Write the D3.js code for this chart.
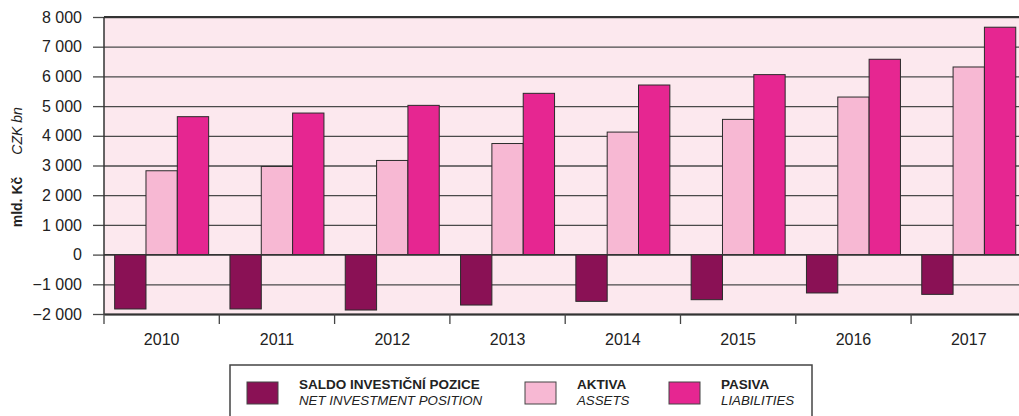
<!DOCTYPE html>
<html>
<head>
<meta charset="utf-8">
<script src="https://cdn.jsdelivr.net/npm/d3@7"></script>
<style>
  html, body { margin: 0; padding: 0; background: #fff; }
  svg { display: block; font-family: "Liberation Sans", Arial, Helvetica, sans-serif; }
</style>
</head>
<body>
<svg id="chart" width="1019" height="416"></svg>
<script>
const years = ["2010","2011","2012","2013","2014","2015","2016","2017"];
const netPosition = [-1831, -1830, -1866, -1698, -1574, -1518, -1292, -1339];
const assets = [2823, 2968, 3170, 3740, 4125, 4553, 5305, 6317];
const liabilities = [4644, 4766, 5025, 5430, 5710, 6060, 6577, 7656];
const yTicks = [-2000, -1000, 0, 1000, 2000, 3000, 4000, 5000, 6000, 7000, 8000];
const seriesKeys = ["net", "assets", "liab"];
const seriesLabelsCz = ["SALDO INVESTIČNÍ POZICE", "AKTIVA", "PASIVA"];
const seriesLabelsEn = ["NET INVESTMENT POSITION", "ASSETS", "LIABILITIES"];
const seriesColors = ["#8a1155", "#f7b8d3", "#e62691"];
const yTitleCz = "mld. Kč";
const yTitleEn = "CZK bn";

(function () {
const svg = d3.select("#chart");
const left = 104, plotTop = 17, plotBottom = 314;
const step = 115.3;
const x0 = d3.scaleBand().domain(years).range([left, left + step * years.length]).padding(0);
const x1 = d3.scaleBand().domain(seriesKeys).range([0, x0.bandwidth()]).paddingInner(0).paddingOuter(0.34);
const y = d3.scaleLinear().domain([-2000, 8000]).range([plotBottom, plotTop]);
const color = d3.scaleOrdinal().domain(seriesKeys).range(seriesColors);

// plot background
svg.append("rect").attr("x", left).attr("y", plotTop)
  .attr("width", 1019 - left).attr("height", plotBottom - plotTop)
  .attr("fill", "#fce8ee");

// y axis with gridlines
const yAxis = d3.axisLeft(y).tickValues(yTicks)
  .tickSize(-(1019 - left)).tickSizeOuter(0)
  .tickFormat(d => d3.format(",")(d).replace(/,/g, "\u00a0").replace("-", "\u2013"));
const gy = svg.append("g").attr("transform", `translate(${left},0)`).call(yAxis);
gy.select(".domain").remove();
gy.selectAll(".tick line").attr("stroke", "#4a4a4a").attr("stroke-width", 1.3);
gy.selectAll(".tick").append("line").attr("x1", -11).attr("x2", 0)
  .attr("stroke", "#4a4a4a").attr("stroke-width", 1.3);
gy.selectAll(".tick text").attr("x", -22).attr("font-size", 16).attr("fill", "#222")
  .attr("font-family", "'Liberation Sans', Arial, sans-serif");

// bars
const data = years.map((yr, i) => ({ year: yr, values: [
  { key: "net", v: netPosition[i] }, { key: "assets", v: assets[i] }, { key: "liab", v: liabilities[i] }
]}));
const groups = svg.append("g").selectAll("g").data(data).join("g")
  .attr("transform", d => `translate(${x0(d.year)},0)`);
groups.selectAll("rect").data(d => d.values).join("rect")
  .attr("x", d => x1(d.key))
  .attr("width", x1.bandwidth())
  .attr("y", d => y(Math.max(0, d.v)))
  .attr("height", d => Math.abs(y(d.v) - y(0)))
  .attr("fill", d => color(d.key))
  .attr("stroke", "#2b2b2b").attr("stroke-width", 1);

// frame lines: left & top & zero
svg.append("line").attr("x1", left).attr("x2", left).attr("y1", plotTop).attr("y2", plotBottom)
  .attr("stroke", "#333").attr("stroke-width", 1.5);
svg.append("line").attr("x1", left).attr("x2", 1019).attr("y1", y(8000)).attr("y2", y(8000))
  .attr("stroke", "#333").attr("stroke-width", 1.8);
svg.append("line").attr("x1", left).attr("x2", 1019).attr("y1", y(0)).attr("y2", y(0))
  .attr("stroke", "#333").attr("stroke-width", 1.3);

// x axis
const xAxis = d3.axisBottom(x0).tickSize(0).tickSizeOuter(0);
const gx = svg.append("g").attr("transform", `translate(0,${plotBottom})`).call(xAxis);
gx.select(".domain").attr("stroke", "#333").attr("stroke-width", 1.8);
gx.selectAll(".tick text").attr("dy", 0).attr("y", 30.5).attr("font-size", 16).attr("fill", "#222")
  .attr("font-family", "'Liberation Sans', Arial, sans-serif");
gx.append("g").selectAll("line").data(years).join("line")
  .attr("x1", d => x0(d)).attr("x2", d => x0(d))
  .attr("y1", 0).attr("y2", 10)
  .attr("stroke", "#444").attr("stroke-width", 1.3);

// y titles
svg.append("text").attr("transform", "translate(22,202) rotate(-90)")
  .attr("text-anchor", "middle").attr("font-size", 14).attr("font-weight", "bold")
  .attr("fill", "#222").text(yTitleCz);
svg.append("text").attr("transform", "translate(22,131) rotate(-90)")
  .attr("text-anchor", "middle").attr("font-size", 14).attr("font-style", "italic")
  .attr("fill", "#222").text(yTitleEn);

// legend
const lg = svg.append("g");
lg.append("rect").attr("x", 230).attr("y", 365).attr("width", 582).attr("height", 70)
  .attr("fill", "#fff").attr("stroke", "#444").attr("stroke-width", 1.5);
const legendX = [247, 525, 669];
seriesKeys.forEach((k, i) => {
  const g = lg.append("g").attr("transform", `translate(${legendX[i]},0)`);
  g.append("rect").attr("x", 0).attr("y", 382).attr("width", 31).attr("height", 22)
    .attr("fill", seriesColors[i]).attr("stroke", "#444").attr("stroke-width", 1);
  g.append("text").attr("x", 52).attr("y", 389).attr("font-size", 13.5).attr("font-weight", "bold")
    .attr("fill", "#222").text(seriesLabelsCz[i]);
  g.append("text").attr("x", 52).attr("y", 405).attr("font-size", 13.3).attr("font-style", "italic")
    .attr("fill", "#222").text(seriesLabelsEn[i]);
});
})();
</script>
</body>
</html>
